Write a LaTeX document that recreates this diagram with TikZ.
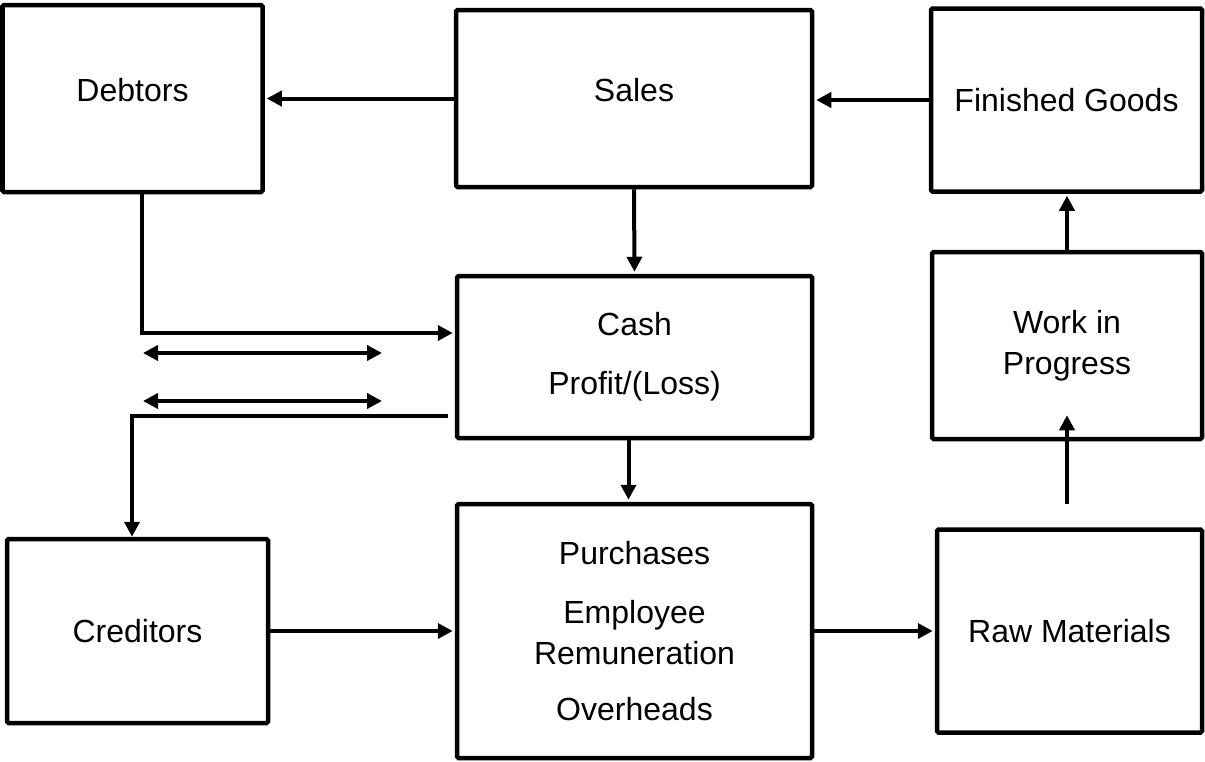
\documentclass[tikz,border=0pt]{standalone}
\usepackage{fontspec}
\setmainfont{Liberation Sans}
\usetikzlibrary{arrows.meta}
\begin{document}
\begin{tikzpicture}[x=1pt,y=-1pt,
  txt/.style={font=\fontsize{32}{41}\selectfont, inner sep=0pt, align=center},
  box/.style={draw, line width=4.5pt, rounded corners=1.5pt, inner sep=0pt, txt},
  flow/.style={line width=4pt, -{Triangle[length=15pt,width=15pt]}},
  both/.style={line width=4pt, {Triangle[length=15pt,width=15pt]}-{Triangle[length=15pt,width=15pt]}},
]
\useasboundingbox (0,0) rectangle (1205,761);

% boxes
\node[box, minimum width=260pt, minimum height=187pt,
      label={[txt,yshift=8pt]center:Debtors}] (debtors) at (132.5,98.5) {};
\node[box, minimum width=356pt, minimum height=177pt,
      label={[txt,yshift=8pt]center:Sales}] (sales) at (634,98.5) {};
\node[box, minimum width=271pt, minimum height=183pt] (fg) at (1066.5,100) {Finished Goods};
\node[box, minimum width=355pt, minimum height=162pt] (cash) at (634.5,357) {Cash\\[18pt]Profit/(Loss)};
\node[box, minimum width=270pt, minimum height=187pt] (wip) at (1067,345.5) {Work in\\Progress};
\node[box, minimum width=261pt, minimum height=184pt] (creditors) at (137.5,631) {Creditors};
\node[box, minimum width=355pt, minimum height=254pt] (purch) at (634.5,631)
      {Purchases\\[18pt]Employee\\Remuneration\\[15pt]Overheads};
\node[box, minimum width=265pt, minimum height=203pt] (raw) at (1069.5,631) {Raw Materials};

% free ends
\coordinate (cashout) at ([xshift=-7pt,yshift=-59pt]cash.west);
\coordinate (rawout) at ([yshift=-63pt]wip.south);
\coordinate (wipin) at ([yshift=26pt]wip.south);
\coordinate (l1) at (143,353);
\coordinate (r1) at (382,353);
\coordinate (l2) at (143,401);
\coordinate (r2) at (382,401);

% connectors
\draw[flow, shorten >=2pt] (sales.west) -- (debtors.east);
\draw[flow, shorten >=2pt] (fg.west) -- (fg.west -| sales.east);
\draw[flow, shorten >=2pt] (sales.south) -- (cash.north);
\draw[flow, shorten >=2pt] (wip.north) -- (wip.north |- fg.south);
\draw[flow] (rawout) -- (wipin);
\draw[flow, shorten >=2pt] ([xshift=9.5pt]debtors.south) |- ([yshift=24pt]cash.west);
\draw[both] (l1) -- (r1);
\draw[both] (l2) -- (r2);
\draw[flow] (cashout) -| ([xshift=-5.5pt]creditors.north);
\draw[flow, shorten >=2pt] ([xshift=-6pt]cash.south) -- ([xshift=-6pt]purch.north);
\draw[flow, shorten >=2pt] (creditors.east) -- (purch.west);
\draw[flow, shorten >=2pt] (purch.east) -- (raw.west);
\end{tikzpicture}
\end{document}
